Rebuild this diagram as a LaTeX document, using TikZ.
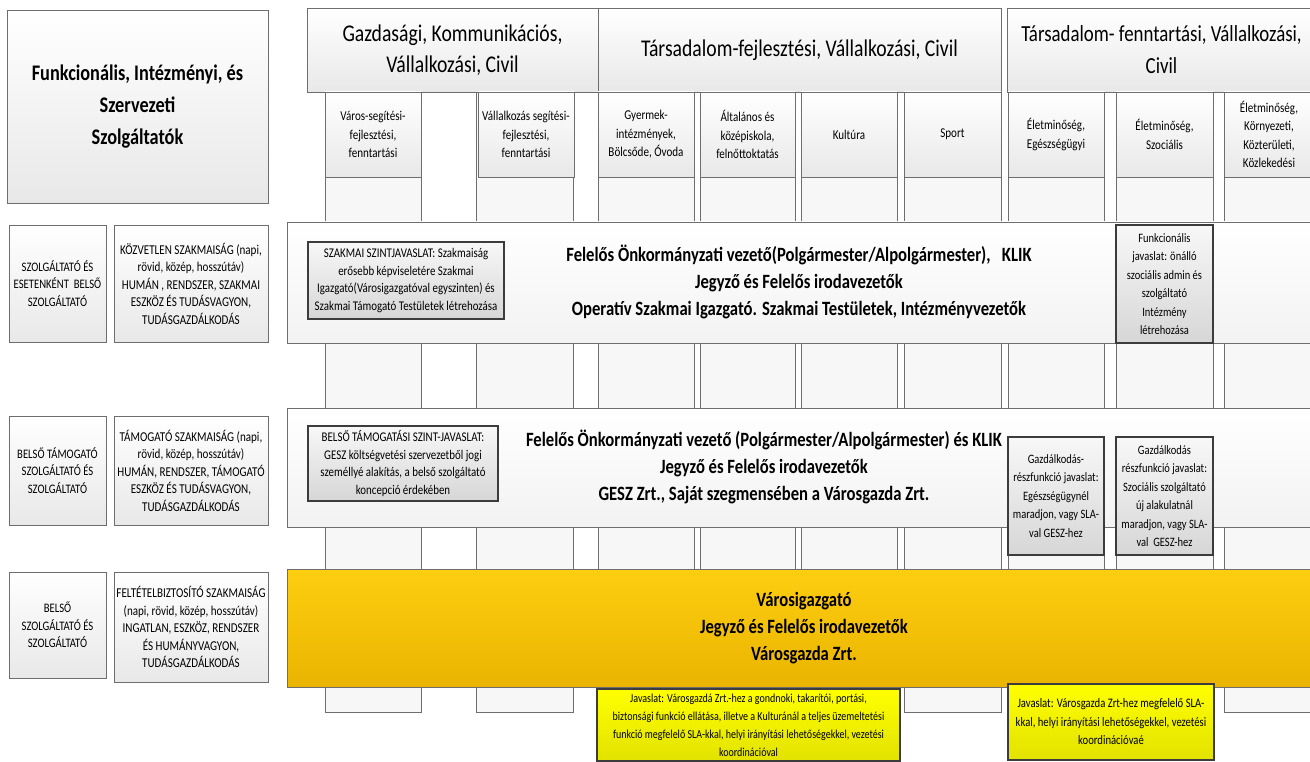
\documentclass[tikz,border=0pt]{standalone}
\usepackage{fontspec}
\setmainfont{Carlito}[FakeStretch=0.82]
\usetikzlibrary{shadows}

\definecolor{edge}{RGB}{110,110,110}
\definecolor{darkedge}{RGB}{60,60,60}
\definecolor{gold1}{RGB}{253,206,16}
\definecolor{gold2}{RGB}{234,180,0}
\definecolor{lemon1}{RGB}{255,255,0}
\definecolor{lemon2}{RGB}{226,226,0}

\newcommand\fsmall{\fontsize{13.5}{17.5}\selectfont}
\newcommand\flabel{\fontsize{13}{17.5}\selectfont}
\newcommand\fcol{\fontsize{13.5}{18.5}\selectfont}
\newcommand\fnote{\fontsize{13.3}{17.5}\selectfont}
\newcommand\fnarrow{\fontsize{12.8}{18.5}\selectfont}
\newcommand\fband{\fontsize{20.3}{27}\selectfont\bfseries}
\newcommand\fhead{\fontsize{24}{31}\selectfont}
\newcommand\ftitle{\fontsize{22.3}{32}\selectfont\bfseries}

% box from its top-left corner (x1,y1) to its bottom-right corner (x2,y2)
\newcommand\boxat[7]{%
  \node[#1, anchor=north west,
        minimum width={(#5-#3)*1pt}, minimum height={(#6-#4)*1pt}]
        (#2) at (#3,#4) {#7};}

\tikzset{
  base/.style={rectangle, inner sep=1pt, outer sep=0pt, align=center, text=black},
  shadowed/.style={drop shadow={shadow xshift=1.3pt, shadow yshift=-1.3pt, opacity=0.35}},
  cell/.style={base, draw=edge, line width=0.8pt, top color=white, bottom color=black!9, shadowed, font=\fsmall},
  strip/.style={base, draw=edge, line width=0.8pt, fill=black!3, shadowed},
  band/.style={base, draw=edge, line width=0.8pt, top color=white, bottom color=black!5, shadowed},
  goldband/.style={base, draw=edge, line width=0.8pt, top color=gold1, bottom color=gold2, shadowed},
  note/.style={base, draw=darkedge, line width=1.6pt, top color=black!3, bottom color=black!16, shadowed, font=\fnote},
  lemon/.style={base, draw=darkedge, line width=1.4pt, top color=lemon1, bottom color=lemon2},
}

\begin{document}
\begin{tikzpicture}[x=1pt,y=-1pt]
\useasboundingbox (0,0) rectangle (1310,762);
\clip (0,0) rectangle (1310,762);
\fill[white] (0,0) rectangle (1310,762);

% vertical column strips
\boxat{strip}{s1}{325}{92}{421}{712}{}
\boxat{strip}{s2}{476}{92}{573}{712}{}
\boxat{strip}{s3}{598}{92}{694}{712}{}
\boxat{strip}{s4}{700}{92}{795}{712}{}
\boxat{strip}{s5}{801}{92}{897}{712}{}
\boxat{strip}{s6}{904}{92}{1001}{712}{}
\boxat{strip}{s7}{1008}{92}{1104}{712}{}
\boxat{strip}{s8}{1116}{92}{1213}{712}{}
\boxat{strip}{s9}{1224}{92}{1316}{712}{}

% title and group headers
\boxat{cell,font=\ftitle}{title}{7}{10}{268}{203}{Funkcionális, Intézményi, és\\Szervezeti\\Szolgáltatók}
\boxat{cell,font=\fhead}{h1}{307}{8}{598}{92}{Gazdasági, Kommunikációs,\\Vállalkozási, Civil}
\boxat{cell,font=\fhead}{h2}{598}{8}{1001}{92}{Társadalom-fejlesztési, Vállalkozási, Civil}
\boxat{cell,font=\fontsize{23}{32}\selectfont}{h3}{1007}{8}{1316}{92}{Társadalom- fenntartási, Vállalkozási,\\Civil}

% column headers
\boxat{cell,font=\fcol}{k1}{325}{92}{421}{177}{Város-segítési-\\fejlesztési,\\fenntartási}
\boxat{cell,font=\fcol}{k2}{478}{92}{574}{177}{Vállalkozás segítési-\\fejlesztési,\\fenntartási}
\boxat{cell,font=\fcol}{k3}{598}{92}{694}{177}{Gyermek-\\intézmények,\\Bölcsőde, Óvoda}
\boxat{cell,font=\fcol}{k4}{700}{92}{795}{177}{Általános és\\középiskola,\\felnőttoktatás}
\boxat{cell,font=\fcol}{k5}{801}{92}{897}{177}{Kultúra}
\boxat{cell,font=\fcol}{k6}{904}{92}{1001}{177}{Sport}
\boxat{cell,font=\fcol}{k7}{1008}{92}{1104}{177}{Életminőség,\\Egészségügyi}
\boxat{cell,font=\fcol}{k8}{1116}{92}{1213}{177}{Életminőség,\\Szociális}
\boxat{cell,font=\fcol}{k9}{1224}{92}{1314}{177}{Életminőség,\\Környezeti,\\Közterületi,\\Közlekedési}

% row labels
\boxat{cell,font=\flabel}{la1}{9}{225}{106}{342}{SZOLGÁLTATÓ ÉS\\ESETENKÉNT\ \ BELSŐ\\SZOLGÁLTATÓ}
\boxat{cell}{lb1}{114}{225}{268}{342}{KÖZVETLEN SZAKMAISÁG (napi,\\rövid, közép, hosszútáv)\\HUMÁN , RENDSZER, SZAKMAI\\ESZKÖZ ÉS TUDÁSVAGYON,\\TUDÁSGAZDÁLKODÁS}
\boxat{cell,font=\flabel}{la2}{9}{416}{106}{525}{BELSŐ TÁMOGATÓ\\SZOLGÁLTATÓ ÉS\\SZOLGÁLTATÓ}
\boxat{cell}{lb2}{114}{416}{268}{525}{TÁMOGATÓ SZAKMAISÁG (napi,\\rövid, közép, hosszútáv)\\HUMÁN, RENDSZER, TÁMOGATÓ\\ESZKÖZ ÉS TUDÁSVAGYON,\\TUDÁSGAZDÁLKODÁS}
\boxat{cell,font=\flabel}{la3}{9}{572}{106}{678}{BELSŐ\\SZOLGÁLTATÓ ÉS\\SZOLGÁLTATÓ}
\boxat{cell}{lb3}{114}{572}{268}{682}{FELTÉTELBIZTOSÍTÓ SZAKMAISÁG\\(napi, rövid, közép, hosszútáv)\\INGATLAN, ESZKÖZ, RENDSZER\\ÉS HUMÁNYVAGYON,\\TUDÁSGAZDÁLKODÁS}

% horizontal bands
\boxat{band}{b1}{287}{222}{1330}{343}{}
\node[base,font=\fband] (t1) at (799,282) {Felelős Önkormányzati vezető(Polgármester/Alpolgármester),\ \ \ KLIK\\Jegyző és Felelős irodavezetők\\Operatív Szakmai Igazgató. Szakmai Testületek, Intézményvezetők};

\boxat{band}{b2}{287}{408}{1330}{527}{}
\node[base,font=\fband] (t2) at (764,467) {Felelős Önkormányzati vezető (Polgármester/Alpolgármester) és KLIK\\Jegyző és Felelős irodavezetők\\GESZ Zrt., Saját szegmensében a Városgazda Zrt.};

\boxat{goldband}{b3}{287}{569}{1330}{687}{}
\node[base,font=\fband] (t3) at (804,628) {Városigazgató\\Jegyző és Felelős irodavezetők\\Városgazda Zrt.};

% proposals
\boxat{note}{n1}{308}{242}{504}{319}{SZAKMAI SZINTJAVASLAT: Szakmaiság\\erősebb képviseletére Szakmai\\Igazgató(Városigazgatóval egyszinten) és\\Szakmai Támogató Testületek létrehozása}
\boxat{note,font=\fnarrow}{n2}{1116}{225}{1213}{343}{Funkcionális\\javaslat: önálló\\szociális admin és\\szolgáltató\\Intézmény\\létrehozása}
\boxat{note}{n3}{308}{426}{498}{501}{BELSŐ TÁMOGATÁSI SZINT-JAVASLAT:\\GESZ költségvetési szervezetből jogi\\személlyé alakítás, a belső szolgáltató\\koncepció érdekében}
\boxat{note,font=\fnarrow}{n4}{1008}{437}{1104}{555}{Gazdálkodás-\\részfunkció javaslat:\\Egészségügynél\\maradjon, vagy SLA-\\val GESZ-hez}
\boxat{note,font=\fnarrow}{n5}{1116}{437}{1213}{555}{Gazdálkodás\\részfunkció javaslat:\\Szociális szolgáltató\\új alakulatnál\\maradjon, vagy SLA-\\val\ \ GESZ-hez}

\boxat{lemon,font=\fontsize{12.2}{18}\selectfont}{y1}{597}{689}{900}{761}{Javaslat: Városgazdá Zrt.-hez a gondnoki, takarítói, portási,\\biztonsági funkció ellátása, illetve a Kulturánál a teljes üzemeltetési\\funkció megfelelő SLA-kkal, helyi irányítási lehetőségekkel, vezetési\\koordinációval}
\boxat{lemon,font=\fontsize{13}{18.5}\selectfont}{y2}{1008}{684}{1214}{760}{Javaslat: Városgazda Zrt-hez megfelelő SLA-\\kkal, helyi irányítási lehetőségekkel, vezetési\\koordinációvaé}
\end{tikzpicture}
\end{document}
